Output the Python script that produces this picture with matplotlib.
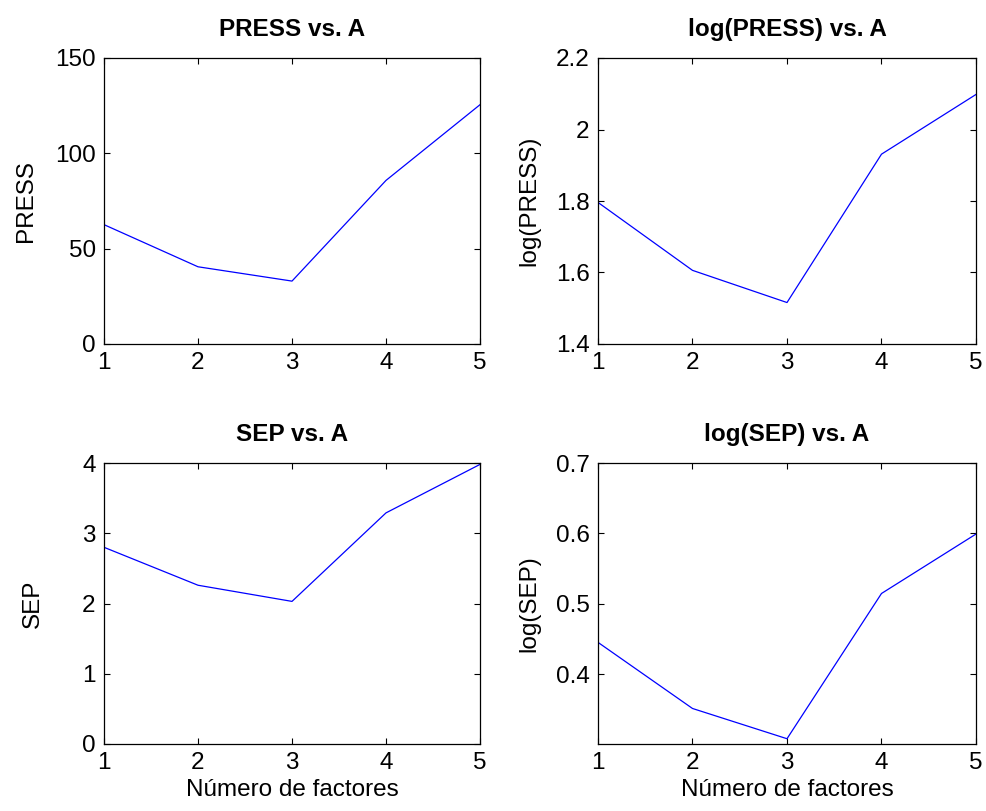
import numpy as np
import matplotlib
matplotlib.use("Agg")
from matplotlib import pyplot as plt

plt.rcParams['font.family'] = ['Liberation Sans', 'DejaVu Sans']

# numero de factores
A = [1, 2, 3, 4, 5]

# values
press = [62.6, 40.5, 33.0, 85.8, 125.5]
log_press = [1.796, 1.606, 1.516, 1.931, 2.098]
sep = [2.80, 2.26, 2.03, 3.29, 3.98]
log_sep = [0.445, 0.351, 0.308, 0.5145, 0.599]

titles = ["PRESS vs. A", "log(PRESS) vs. A", "SEP vs. A", "log(SEP) vs. A"]
ylabels = ["PRESS", "log(PRESS)", "SEP", "log(SEP)"]
ylims = [(0, 150), (1.4, 2.2), (0, 4), (0.3005, 0.7)]
yticks = [[0, 50, 100, 150],
          [1.4, 1.6, 1.8, 2.0, 2.2],
          [0, 1, 2, 3, 4],
          [0.4, 0.5, 0.6, 0.7]]
yticklabels = [["0", "50", "100", "150"],
               ["1.4", "1.6", "1.8", "2", "2.2"],
               ["0", "1", "2", "3", "4"],
               ["0.4", "0.5", "0.6", "0.7"]]

series = [press, log_press, sep, log_sep]

# axes boxes in pixels (left, right, top, bottom) of a 987x811 figure
W, H = 987.0, 811.0
boxes = [(104, 480, 58, 344), (598, 976, 58, 344),
         (104, 480, 463, 744), (598, 976, 463, 744)]
# where the y label sits, in axes fraction
ylab_x = [-0.178, -0.153, -0.16, -0.153]

fs = 17.5
fig = plt.figure(figsize=(9.87, 8.11), dpi=100)
for i in range(4):
    l, r, t, b = boxes[i]
    ax = fig.add_axes([l / W, 1 - b / H, (r - l) / W, (b - t) / H])
    ax.plot(A, series[i], color=(0, 0, 1), lw=0.9)
    ax.set_xlim(1, 5)
    ax.set_ylim(*ylims[i])
    ax.set_xticks(A)
    ax.set_yticks(yticks[i])
    ax.set_yticklabels(yticklabels[i])
    ax.tick_params(direction='in', length=4, width=0.8, labelsize=fs,
                   top=True, right=True, pad=6)
    for s in ax.spines.values():
        s.set_linewidth(0.9)
    ax.set_title(titles[i], fontsize=fs, fontweight='bold', pad=15.5)
    ax.set_ylabel(ylabels[i], fontsize=fs)
    ax.yaxis.set_label_coords(ylab_x[i], 0.5)
    if i >= 2:
        ax.set_xlabel("Número de factores", fontsize=fs, labelpad=3)

fig.savefig("out.png", dpi=100)
